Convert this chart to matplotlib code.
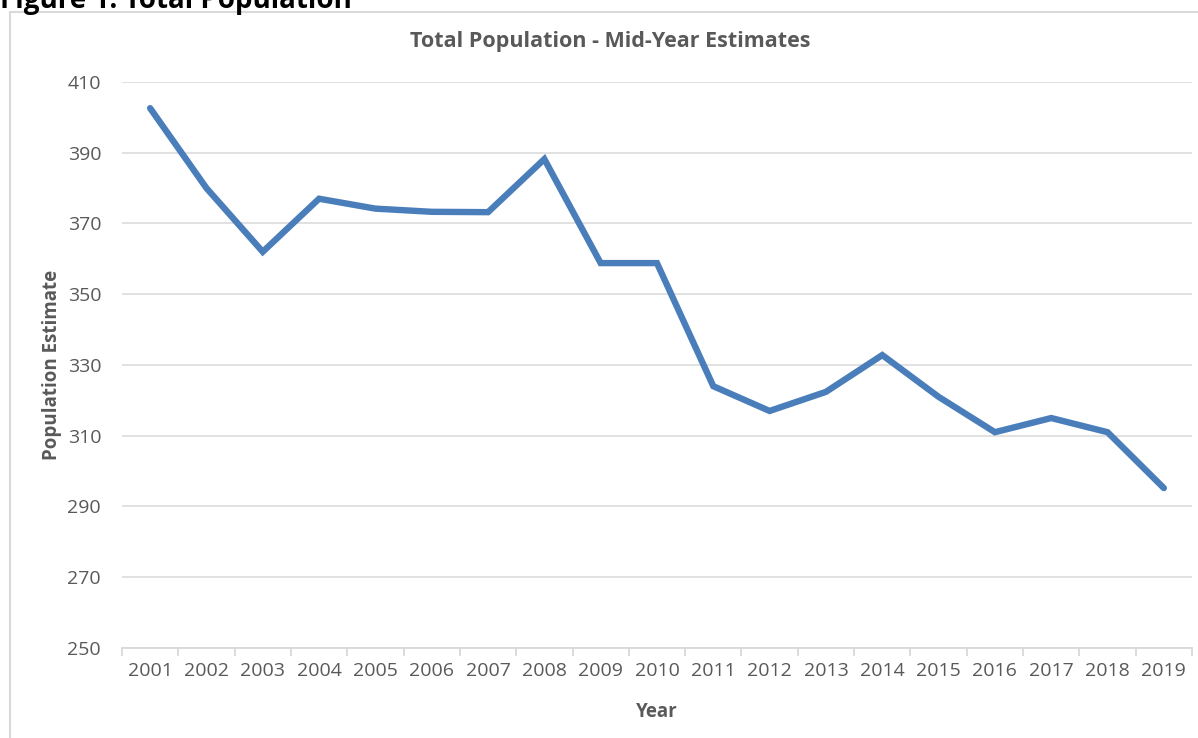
import matplotlib.pyplot as plt
from matplotlib.patches import Rectangle

# data
years = ['2001', '2002', '2003', '2004', '2005', '2006', '2007', '2008', '2009', '2010',
         '2011', '2012', '2013', '2014', '2015', '2016', '2017', '2018', '2019']
population = [402.6, 380, 362, 377, 374.2, 373.3, 373.2, 388.2, 358.8, 358.8,
              324, 317, 322.4, 332.8, 321, 311, 315, 311, 295.2]
y_ticks = [250, 270, 290, 310, 330, 350, 370, 390, 410]

plt.rcParams['font.family'] = ['Open Sans', 'DejaVu Sans']
grey_text = '#595959'
grid_col = '#d9d9d9'

fig = plt.figure(figsize=(11.98, 7.38), dpi=100)
ax = fig.add_axes([0.1018, 0.122, 0.8932, 0.7669])

# chart frame and the cut-off figure caption
fig.patches.append(Rectangle((10 / 1198, -0.05), 1.1, 1 - 12 / 738 + 0.05,
                             transform=fig.transFigure, fill=False,
                             edgecolor=grid_col, linewidth=1.5))
fig.text(0.0, 1 - 8 / 738, 'Figure 1: Total Population', fontsize=20,
         fontweight='bold', color='black', va='baseline', ha='left')

x = list(range(len(years)))
ax.plot(x, population, color='#4a7ebb', linewidth=4.6, solid_capstyle='round',
        solid_joinstyle='miter')

ax.set_xlim(-0.5, len(years) - 0.5)
ax.set_ylim(250, 410)
ax.set_yticks(y_ticks)
ax.set_xticks(x)
ax.set_xticklabels(years)
ax.set_xticks([i - 0.5 for i in range(len(years) + 1)], minor=True)

ax.grid(axis='y', color=grid_col, linewidth=1.1)
ax.set_axisbelow(True)
for side in ['top', 'right', 'left']:
    ax.spines[side].set_visible(False)
ax.spines['bottom'].set_color(grid_col)
ax.spines['bottom'].set_linewidth(1.3)

ax.tick_params(axis='y', length=0, labelsize=14, labelcolor=grey_text, pad=15)
ax.tick_params(axis='x', which='major', length=0, labelsize=14, labelcolor=grey_text, pad=10)
ax.tick_params(axis='x', which='minor', length=6, color=grid_col, width=1.3)

fig.text(610 / 1198, 1 - 42 / 738, 'Total Population - Mid-Year Estimates', fontsize=15.5,
         fontweight='bold', color=grey_text, ha='center', va='center')
ax.set_xlabel('Year', fontsize=13.5, fontweight='bold', color=grey_text, labelpad=16)
ax.set_ylabel('Population Estimate', fontsize=13.5, fontweight='bold', color=grey_text,
              labelpad=4)

fig.savefig('out.png', dpi=100)
